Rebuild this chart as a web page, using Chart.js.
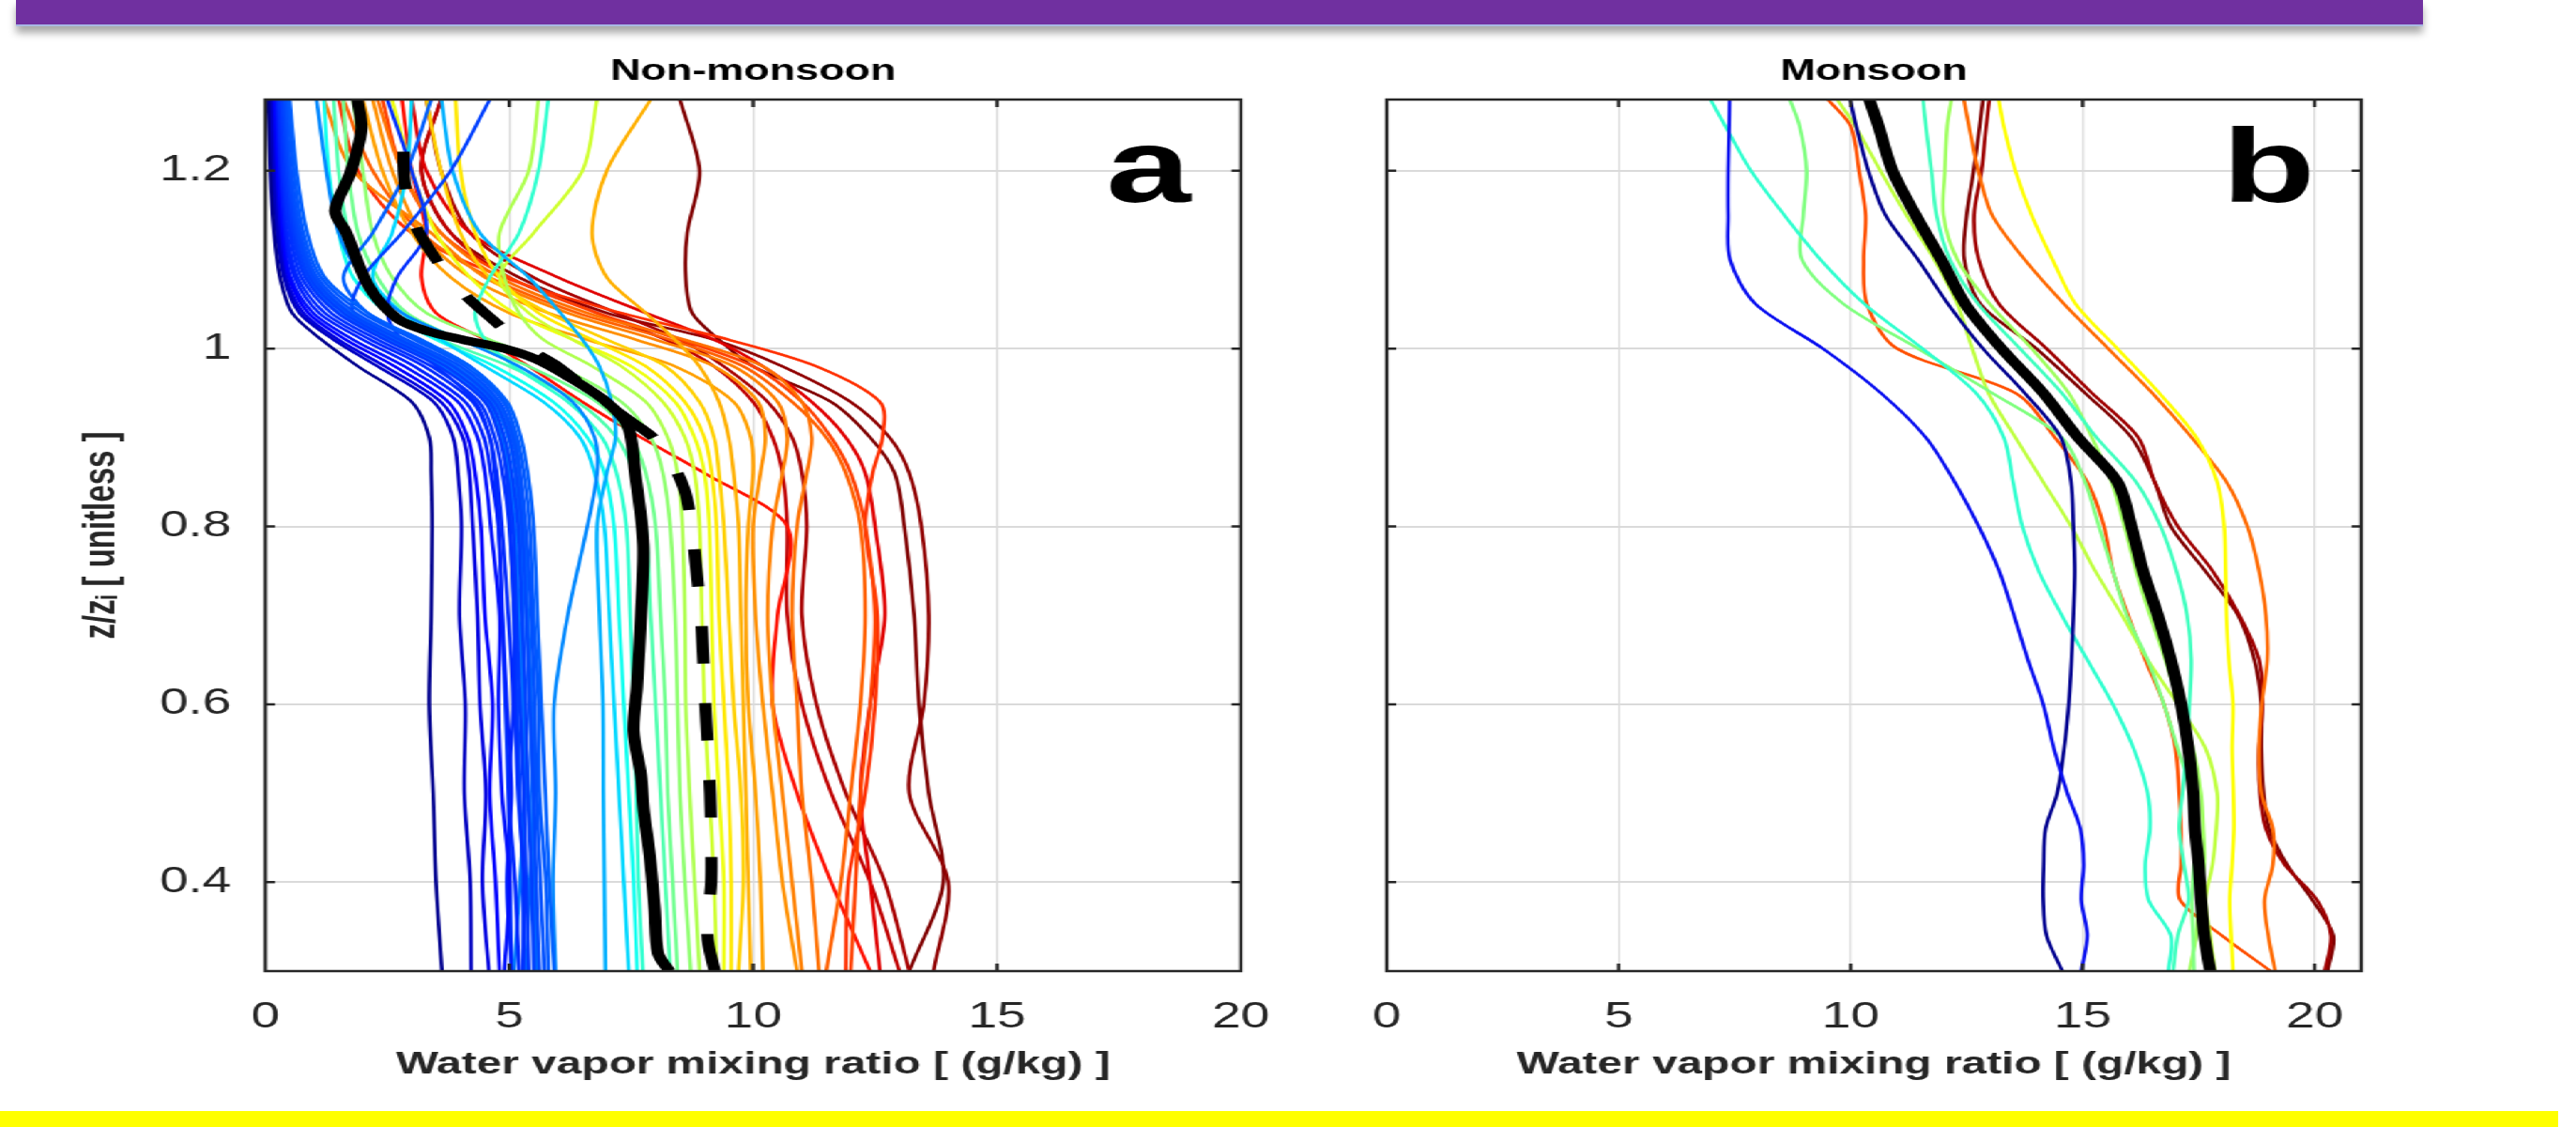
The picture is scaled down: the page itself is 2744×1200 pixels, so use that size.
<!DOCTYPE html>
<html>
<head>
<meta charset="utf-8">
<title>Water vapor mixing ratio profiles</title>
<script src="https://cdn.jsdelivr.net/npm/chart.js@4.4.1/dist/chart.umd.min.js"></script>
<style>
  html, body { margin: 0; padding: 0; background: #ffffff; }
  body { width: 2744px; height: 1200px; position: relative; overflow: hidden; }
  #banner { position: absolute; left: 17px; top: 0; width: 2564px; height: 26px; background: #7030a0;
            border-bottom: 2px solid #a9b8e4; box-shadow: 0 7px 9px rgba(0,0,0,0.35); }
  #footer { position: absolute; left: 0; top: 1183px; width: 2725px; height: 17px; background: #ffff00; }
  /* the figure is laid out narrow and widened horizontally */
  #figure { position: absolute; left: 0; top: 0; width: 1893px; height: 1200px;
            transform: scaleX(1.4496); transform-origin: 0 0; }
  #figure canvas { position: absolute; top: 0; }
  #chartA { left: 0; width: 960px; height: 1200px; }
  #chartB { left: 960px; width: 933px; height: 1200px; }
</style>
</head>
<body>
<div id="banner"></div>
<div id="figure">
  <canvas id="chartA" width="960" height="1200"></canvas>
  <canvas id="chartB" width="933" height="1200"></canvas>
</div>
<div id="footer"></div>
<script>
// ---------------- axes ----------------
const X_TICKS = [0, 5, 10, 15, 20];
const Y_TICKS = [0.4, 0.6, 0.8, 1.0, 1.2];
const Y_TICK_LABELS = ['0.4', '0.6', '0.8', '1', '1.2'];
const Z_MIN = 0.3, Z_MAX = 1.28;
const X_MAX_A = 20, X_MAX_B = 21;

// ---------------- panel a: non-monsoon profiles ----------------
// normalised heights z/zi shared by the individual profiles
const Z_A = [0.30, 0.40, 0.50, 0.60, 0.70, 0.80, 0.86, 0.90, 0.94, 0.98, 1.01, 1.04, 1.08, 1.13, 1.20, 1.28];

// driest profiles (navy / blue)
const A_DRY = [
  [3.62, 3.50, 3.44, 3.36, 3.40, 3.42, 3.40, 3.36, 3.00, 1.90, 1.15, 0.55, 0.30, 0.18, 0.10, 0.06],
  [4.22, 4.20, 4.08, 4.10, 3.98, 4.02, 3.95, 3.85, 3.45, 2.30, 1.40, 0.70, 0.38, 0.24, 0.15, 0.10],
  [4.58, 4.45, 4.52, 4.40, 4.35, 4.25, 4.18, 4.05, 3.60, 2.45, 1.50, 0.78, 0.42, 0.28, 0.18, 0.12],
  [4.80, 4.72, 4.60, 4.66, 4.50, 4.42, 4.30, 4.15, 3.75, 2.65, 1.65, 0.88, 0.48, 0.32, 0.22, 0.15],
  [4.90, 5.00, 4.85, 4.78, 4.80, 4.62, 4.50, 4.35, 3.95, 2.85, 1.80, 0.98, 0.52, 0.36, 0.25, 0.18],
  [5.05, 4.95, 5.05, 4.95, 4.86, 4.78, 4.62, 4.48, 4.10, 3.05, 2.00, 1.10, 0.60, 0.40, 0.28, 0.20],
  [5.20, 5.12, 5.00, 5.08, 4.98, 4.85, 4.74, 4.60, 4.25, 3.25, 2.15, 1.22, 0.66, 0.44, 0.30, 0.22],
  [5.28, 5.30, 5.18, 5.12, 5.10, 5.00, 4.86, 4.70, 4.38, 3.40, 2.30, 1.35, 0.74, 0.50, 0.34, 0.25],
  [5.40, 5.35, 5.30, 5.22, 5.15, 5.08, 4.95, 4.80, 4.50, 3.55, 2.45, 1.48, 0.82, 0.55, 0.38, 0.28],
  [5.50, 5.46, 5.38, 5.34, 5.26, 5.18, 5.05, 4.90, 4.60, 3.70, 2.60, 1.60, 0.90, 0.60, 0.42, 0.32],
  [5.62, 5.55, 5.50, 5.42, 5.35, 5.26, 5.14, 5.00, 4.70, 3.85, 2.75, 1.72, 0.98, 0.66, 0.46, 0.36],
  [5.72, 5.64, 5.56, 5.52, 5.45, 5.34, 5.22, 5.08, 4.80, 4.00, 2.90, 1.85, 1.06, 0.72, 0.52, 0.40],
  [5.80, 5.75, 5.62, 5.60, 5.50, 5.42, 5.30, 5.16, 4.88, 4.10, 3.05, 1.98, 1.14, 0.78, 0.58, 0.45],
  [5.92, 5.82, 5.74, 5.66, 5.58, 5.50, 5.38, 5.24, 4.96, 4.20, 3.15, 2.10, 1.22, 0.86, 0.64, 0.50],
  [5.35, 5.42, 5.50, 5.46, 5.38, 5.30, 5.20, 5.06, 4.76, 3.90, 2.80, 1.75, 1.00, 0.70, 0.50, 0.38],
  [5.60, 5.48, 5.40, 5.30, 5.28, 5.22, 5.12, 4.98, 4.66, 3.80, 2.70, 1.65, 0.94, 0.64, 0.46, 0.34],
  [5.10, 5.22, 5.32, 5.28, 5.20, 5.12, 5.00, 4.84, 4.52, 3.60, 2.50, 1.50, 0.86, 0.58, 0.40, 0.30],
  [5.30, 5.28, 5.22, 5.16, 5.10, 5.02, 4.94, 4.85, 4.55, 3.70, 2.60, 1.80, 2.00, 2.80, 3.80, 4.60],
  [5.05, 5.02, 4.98, 4.92, 4.85, 4.78, 4.70, 4.60, 4.30, 3.50, 2.80, 2.50, 2.70, 3.30, 3.00, 2.50],
  [5.55, 5.52, 5.48, 5.42, 5.36, 5.30, 5.22, 5.12, 4.90, 4.20, 3.20, 2.10, 1.60, 2.20, 2.90, 3.40],
  [5.95, 5.90, 5.95, 5.92, 6.20, 6.60, 6.80, 6.75, 6.30, 5.20, 4.00, 2.80, 2.00, 1.50, 1.25, 1.05]
];
const A_DRY_COLORS = ['#00008f', '#0000c0', '#0000e0', '#0000ff', '#0010ff', '#0020ff', '#0028ff', '#0030ff',
  '#0038ff', '#0040ff', '#0048ff', '#0050ff', '#0058ff', '#0060ff', '#0068ff', '#0070ff', '#0078ff',
  '#0040ff', '#0030ff', '#0060ff', '#0088ff'];

// intermediate profiles (cyan / green / yellow)
const A_MID = [
  [6.97, 6.95, 6.93, 6.92, 6.85, 6.80, 7.00, 7.18, 7.10, 6.85, 6.50, 6.05, 5.40, 4.40, 3.84, 3.61],
  [7.45, 7.35, 7.25, 7.15, 7.05, 6.95, 6.75, 6.45, 5.70, 4.50, 3.60, 2.80, 2.20, 2.60, 2.90, 3.00],
  [7.62, 7.55, 7.45, 7.35, 7.25, 7.15, 6.95, 6.60, 5.90, 4.70, 3.50, 2.50, 1.80, 1.50, 1.30, 1.20],
  [7.74, 7.65, 7.60, 7.55, 7.48, 7.40, 7.20, 6.90, 6.20, 5.10, 4.50, 4.30, 4.60, 5.20, 5.60, 5.80],
  [8.30, 8.20, 8.10, 8.00, 7.90, 7.80, 7.55, 7.20, 6.40, 5.00, 3.60, 2.60, 2.00, 1.70, 1.50, 1.40],
  [8.45, 8.35, 8.25, 8.20, 8.10, 8.00, 7.80, 7.50, 6.80, 5.40, 4.00, 2.90, 2.30, 1.90, 1.70, 1.60],
  [8.72, 8.60, 8.50, 8.45, 8.40, 8.30, 8.15, 7.90, 7.30, 6.00, 4.60, 3.30, 2.60, 2.20, 2.00, 1.80],
  [8.90, 8.80, 8.70, 8.62, 8.60, 8.55, 8.45, 8.25, 7.80, 6.70, 5.70, 5.20, 4.90, 4.80, 5.40, 5.60],
  [9.25, 9.20, 9.10, 9.00, 8.95, 8.90, 8.80, 8.60, 8.15, 7.30, 6.30, 5.40, 4.80, 5.50, 6.50, 6.80],
  [9.40, 9.40, 9.30, 9.20, 9.15, 9.10, 9.00, 8.80, 8.40, 7.50, 6.30, 5.10, 4.20, 3.50, 3.00, 2.60],
  [9.55, 9.55, 9.50, 9.40, 9.30, 9.25, 9.15, 9.00, 8.60, 7.80, 6.70, 5.60, 4.80, 4.30, 4.00, 3.90],
  [9.70, 9.80, 9.75, 9.60, 9.50, 9.40, 9.30, 9.20, 8.90, 8.20, 7.00, 5.80, 4.60, 4.00, 3.60, 3.30]
];
const A_MID_COLORS = ['#00b0ff', '#00d8ff', '#10ffef', '#30ffcf', '#50ffaf', '#70ff8f', '#8fff70',
  '#afff50', '#cfff30', '#efff10', '#ffe800', '#ffd000'];

// moistest profiles (orange / red)
const A_MOIST = [
  [9.95, 9.90, 9.85, 9.80, 9.75, 9.70, 9.60, 9.50, 9.30, 8.90, 8.40, 7.80, 7.00, 6.70, 7.00, 7.90],
  [10.20, 10.15, 10.05, 9.90, 9.85, 9.90, 10.00, 9.95, 9.60, 8.40, 6.60, 5.00, 3.80, 3.00, 2.40, 2.00],
  [10.90, 10.60, 10.40, 10.20, 10.05, 10.00, 10.15, 10.25, 10.10, 9.20, 7.60, 5.80, 4.20, 3.20, 2.60, 2.20],
  [11.00, 10.80, 10.60, 10.40, 10.30, 10.40, 10.60, 10.70, 10.50, 9.60, 8.00, 6.20, 4.50, 3.40, 1.80, 1.20],
  [11.35, 11.20, 11.00, 10.90, 10.80, 10.90, 11.10, 11.20, 11.00, 10.20, 8.60, 6.60, 4.80, 3.60, 2.80, 2.30],
  [11.50, 11.80, 12.00, 12.20, 12.30, 12.20, 11.90, 11.50, 10.80, 9.80, 8.30, 6.40, 4.60, 3.20, 2.20, 1.60],
  [12.00, 12.10, 12.20, 12.40, 12.50, 12.30, 12.00, 11.60, 11.00, 10.00, 8.50, 6.80, 5.00, 3.60, 2.80, 2.40],
  [11.90, 11.95, 12.30, 12.50, 12.55, 12.30, 12.45, 12.65, 12.60, 11.30, 9.50, 7.30, 4.90, 3.00, 1.90, 1.50],
  [12.40, 11.60, 10.90, 10.40, 10.50, 10.70, 9.00, 7.70, 6.50, 5.40, 4.50, 3.50, 3.20, 3.30, 3.00, 2.80],
  [12.60, 12.40, 12.20, 12.40, 12.70, 12.50, 12.30, 11.90, 11.20, 10.20, 9.20, 7.80, 6.00, 4.20, 3.30, 3.00],
  [13.00, 12.40, 11.60, 11.00, 10.70, 10.70, 10.60, 10.40, 10.00, 9.20, 8.20, 6.80, 5.00, 3.80, 3.20, 3.60],
  [13.20, 12.70, 11.90, 11.30, 11.00, 11.10, 11.00, 10.80, 10.30, 9.40, 8.50, 7.20, 5.50, 4.20, 3.60, 3.30],
  [13.70, 14.00, 13.20, 13.50, 13.60, 13.45, 13.20, 12.80, 12.00, 10.60, 9.20, 7.00, 5.20, 3.80, 3.20, 3.60],
  [13.20, 13.90, 13.60, 13.40, 13.30, 13.10, 12.90, 12.40, 11.60, 10.00, 9.30, 8.75, 8.62, 8.65, 8.90, 8.50]
];
const A_MOIST_COLORS = ['#ffb000', '#ffa000', '#ff9000', '#ff8000', '#ff7000', '#ff6000', '#ff4000',
  '#ff3000', '#ff1000', '#e00000', '#c00000', '#a80000', '#900000', '#800000'];

// mean profile (solid) and second mean profile (dashed)
const A_MEAN_Z = [0.30, 0.32, 0.37, 0.43, 0.48, 0.52, 0.57, 0.62, 0.70, 0.78, 0.86, 0.913, 0.941, 0.969,
  0.988, 1.000, 1.010, 1.020, 1.034, 1.070, 1.13, 1.155, 1.197, 1.246, 1.28];
const A_MEAN_X = [8.28, 8.05, 7.98, 7.88, 7.76, 7.70, 7.55, 7.62, 7.70, 7.75, 7.58, 7.43, 6.97, 6.19,
  5.55, 4.90, 4.05, 3.30, 2.70, 2.12, 1.66, 1.43, 1.74, 1.97, 1.89];
const A_DASH_Z = [0.30, 0.34, 0.40, 0.45, 0.50, 0.56, 0.60, 0.66, 0.70, 0.76, 0.80, 0.84, 0.87, 0.90,
  0.92, 0.95, 0.98, 1.00, 1.04, 1.07, 1.11, 1.145, 1.19, 1.24];
const A_DASH_X = [9.21, 9.06, 9.14, 9.14, 9.12, 9.06, 9.02, 8.97, 8.93, 8.82, 8.74, 8.60, 8.35, 7.95,
  7.45, 6.70, 6.00, 5.40, 4.50, 3.92, 3.38, 3.02, 2.85, 2.83];

// ---------------- panel b: monsoon profiles ----------------
const Z_B = [0.30, 0.34, 0.38, 0.42, 0.46, 0.50, 0.55, 0.60, 0.65, 0.70, 0.75, 0.80, 0.85, 0.90,
  0.95, 1.00, 1.05, 1.10, 1.15, 1.20, 1.25, 1.28];
const B_PROFILES = [
  [14.97, 15.10, 14.97, 15.02, 14.95, 14.67, 14.38, 14.15, 13.82, 13.52, 13.20, 12.76, 12.24, 11.62, 10.65, 9.40, 7.95, 7.40, 7.36, 7.36, 7.38, 7.39],
  [14.56, 14.22, 14.15, 14.16, 14.20, 14.45, 14.60, 14.70, 14.76, 14.80, 14.83, 14.80, 14.75, 14.53, 13.75, 12.85, 12.10, 11.45, 10.75, 10.38, 10.12, 9.99],
  [16.85, 16.90, 16.42, 16.35, 16.45, 16.40, 16.10, 15.65, 15.10, 14.55, 14.05, 13.70, 13.50, 13.30, 12.70, 11.55, 10.30, 9.35, 8.57, 7.85, 7.30, 6.98],
  [16.95, 17.05, 17.28, 17.18, 17.08, 17.15, 17.24, 17.30, 17.34, 17.25, 17.02, 16.68, 16.15, 15.30, 14.55, 13.65, 12.75, 12.14, 11.85, 11.74, 11.62, 11.56],
  [17.40, 17.38, 17.35, 17.40, 17.45, 17.35, 17.05, 16.75, 16.40, 15.95, 15.65, 15.35, 15.05, 14.55, 13.05, 11.45, 9.85, 8.95, 8.98, 9.05, 8.90, 8.69],
  [17.30, 17.45, 17.50, 17.62, 17.60, 17.55, 17.38, 17.08, 16.78, 16.45, 16.15, 15.90, 15.62, 15.20, 14.70, 13.90, 13.00, 12.30, 12.00, 12.03, 12.08, 12.17],
  [17.85, 17.75, 17.65, 17.80, 17.88, 17.90, 17.65, 17.05, 16.40, 15.85, 15.27, 14.75, 14.15, 13.55, 12.97, 12.62, 12.30, 11.80, 11.20, 10.64, 10.10, 9.71],
  [18.24, 18.20, 18.17, 18.22, 18.26, 18.25, 18.22, 18.24, 18.15, 18.10, 18.08, 18.05, 17.90, 17.45, 16.65, 15.75, 14.85, 14.35, 13.90, 13.55, 13.30, 13.19],
  [19.05, 18.00, 17.10, 17.12, 17.12, 17.08, 17.00, 16.75, 16.35, 15.98, 15.65, 15.46, 15.10, 14.40, 13.55, 11.00, 10.35, 10.28, 10.32, 10.18, 10.00, 9.51],
  [19.15, 19.00, 18.92, 19.10, 19.10, 18.85, 18.80, 18.86, 18.98, 18.95, 18.80, 18.55, 18.10, 17.35, 16.50, 15.55, 14.60, 13.75, 13.05, 12.75, 12.55, 12.44],
  [20.22, 20.35, 20.05, 19.35, 18.95, 18.82, 18.80, 18.88, 18.80, 18.38, 17.80, 17.05, 16.55, 16.20, 15.20, 14.22, 13.20, 12.76, 12.66, 12.82, 12.92, 12.99],
  [20.28, 20.40, 19.95, 19.40, 19.02, 18.90, 18.85, 18.85, 18.70, 18.35, 17.64, 16.90, 16.55, 16.05, 15.05, 14.00, 12.80, 12.45, 12.50, 12.65, 12.78, 12.85]
];
const B_COLORS = ['#0a10f0', '#00008f', '#30ffcf', '#40ffbf', '#80ff80', '#9fff60', '#bfff40', '#ffff00',
  '#ff5000', '#ff6a00', '#9f0000', '#800000'];
const B_MEAN = [17.75, 17.62, 17.55, 17.50, 17.42, 17.38, 17.28, 17.12, 16.90, 16.62, 16.30, 16.05, 15.75,
  14.90, 14.15, 13.25, 12.47, 11.95, 11.40, 10.90, 10.60, 10.40];

// ---------------- drawing ----------------
const FONT = '"Liberation Sans", Arial, Helvetica, sans-serif';
const INK = '#262626';
const THIN = 2.7, THICK = 9;

function lineSet(zs, xs, color, width, order, dash) {
  return {
    data: xs.map((x, i) => ({ x: x, y: zs[i] })),
    borderColor: color,
    backgroundColor: color,
    borderWidth: width,
    borderDash: dash || [],
    borderCapStyle: 'butt',
    borderJoinStyle: 'round',
    showLine: true,
    pointRadius: 0,
    pointHoverRadius: 0,
    tension: 0.3,
    order: order
  };
}

// axes box with inward ticks and the panel letter
const boxFrame = {
  id: 'boxFrame',
  afterDatasetsDraw(chart, args, opts) {
    const { ctx, chartArea: a, scales: { x, y } } = chart;
    ctx.save();
    ctx.strokeStyle = INK;
    ctx.lineWidth = 2.5;
    ctx.beginPath();
    X_TICKS.forEach(v => {
      if (v <= x.min || v >= x.max) return;
      const px = x.getPixelForValue(v);
      ctx.moveTo(px, a.bottom); ctx.lineTo(px, a.bottom - 8);
      ctx.moveTo(px, a.top); ctx.lineTo(px, a.top + 8);
    });
    Y_TICKS.forEach(v => {
      const py = y.getPixelForValue(v);
      ctx.moveTo(a.left, py); ctx.lineTo(a.left + 7, py);
      ctx.moveTo(a.right, py); ctx.lineTo(a.right - 7, py);
    });
    ctx.stroke();
    ctx.strokeRect(a.left, a.top, a.right - a.left, a.bottom - a.top);
    if (opts.letter) {
      ctx.fillStyle = '#000000';
      ctx.font = 'bold 112px ' + FONT;
      ctx.textAlign = 'center';
      ctx.textBaseline = 'alphabetic';
      ctx.fillText(opts.letter, a.right - 68, 215);
    }
    ctx.restore();
  }
};

function makeChart(canvasId, datasets, cfg) {
  return new Chart(document.getElementById(canvasId), {
    type: 'scatter',
    data: { datasets: datasets },
    plugins: [boxFrame],
    options: {
      responsive: false,
      animation: false,
      devicePixelRatio: 1,
      layout: { padding: { left: 0, right: cfg.rightPad, top: 0, bottom: 0 } },
      plugins: {
        legend: { display: false },
        tooltip: { enabled: false },
        boxFrame: { letter: cfg.letter },
        title: {
          display: true, text: cfg.title, fullSize: false, color: '#000000',
          font: { family: FONT, size: 31, weight: 'bold', lineHeight: 1.2 },
          padding: { top: 58, bottom: 10.8 }
        }
      },
      scales: {
        x: {
          type: 'linear', min: 0, max: cfg.xMax,
          afterBuildTicks: ax => { ax.ticks = X_TICKS.map(v => ({ value: v })); },
          afterFit: ax => { ax.height = 166; },
          grid: { color: '#dadada', lineWidth: 1.4, drawTicks: false },
          border: { display: false },
          ticks: {
            color: INK, padding: 27, autoSkip: false, maxRotation: 0,
            font: { family: FONT, size: 38 },
            callback: v => String(v)
          },
          title: {
            display: true, text: 'Water vapor mixing ratio [ (g/kg) ]', color: INK,
            font: { family: FONT, size: 33, weight: 'bold', lineHeight: 1.2 },
            padding: { top: 0, bottom: 46 }
          }
        },
        y: {
          type: 'linear', min: Z_MIN, max: Z_MAX,
          afterBuildTicks: ax => { ax.ticks = Y_TICKS.map(v => ({ value: v })); },
          afterFit: ax => { ax.width = cfg.yWidth; },
          grid: { color: '#dadada', lineWidth: 2, drawTicks: false },
          border: { display: false },
          ticks: {
            display: cfg.yLabels, color: INK, padding: 25, autoSkip: false,
            font: { family: FONT, size: 38 },
            callback: (v, i) => Y_TICK_LABELS[i]
          },
          title: {
            display: cfg.yLabels, text: 'z/z\u1D62 [ unitless ]', color: INK,
            font: { family: FONT, size: 33, weight: 'bold', lineHeight: 1.2 },
            padding: { top: 55, bottom: 0 }
          }
        }
      }
    }
  });
}

const setsA = [];
setsA.push(lineSet(A_MEAN_Z, A_MEAN_X, '#000000', THICK, 0));
setsA.push(lineSet(A_DASH_Z, A_DASH_X, '#000000', THICK, 0, [40, 42]));
A_DRY.forEach((p, i) => setsA.push(lineSet(Z_A, p, A_DRY_COLORS[i], THIN, 1)));
A_MID.forEach((p, i) => setsA.push(lineSet(Z_A, p, A_MID_COLORS[i], THIN, 1)));
A_MOIST.forEach((p, i) => setsA.push(lineSet(Z_A, p, A_MOIST_COLORS[i], THIN, 1)));

const setsB = [];
setsB.push(lineSet(Z_B, B_MEAN, '#000000', THICK, 0));
B_PROFILES.forEach((p, i) => setsB.push(lineSet(Z_B, p, B_COLORS[i], THIN, 1)));

makeChart('chartA', setsA, { title: 'Non-monsoon', letter: 'a', xMax: X_MAX_A, yWidth: 195, yLabels: true, rightPad: 43 });
makeChart('chartB', setsB, { title: 'Monsoon', letter: 'b', xMax: X_MAX_B, yWidth: 59, yLabels: false, rightPad: 158 });
</script>
</body>
</html>
